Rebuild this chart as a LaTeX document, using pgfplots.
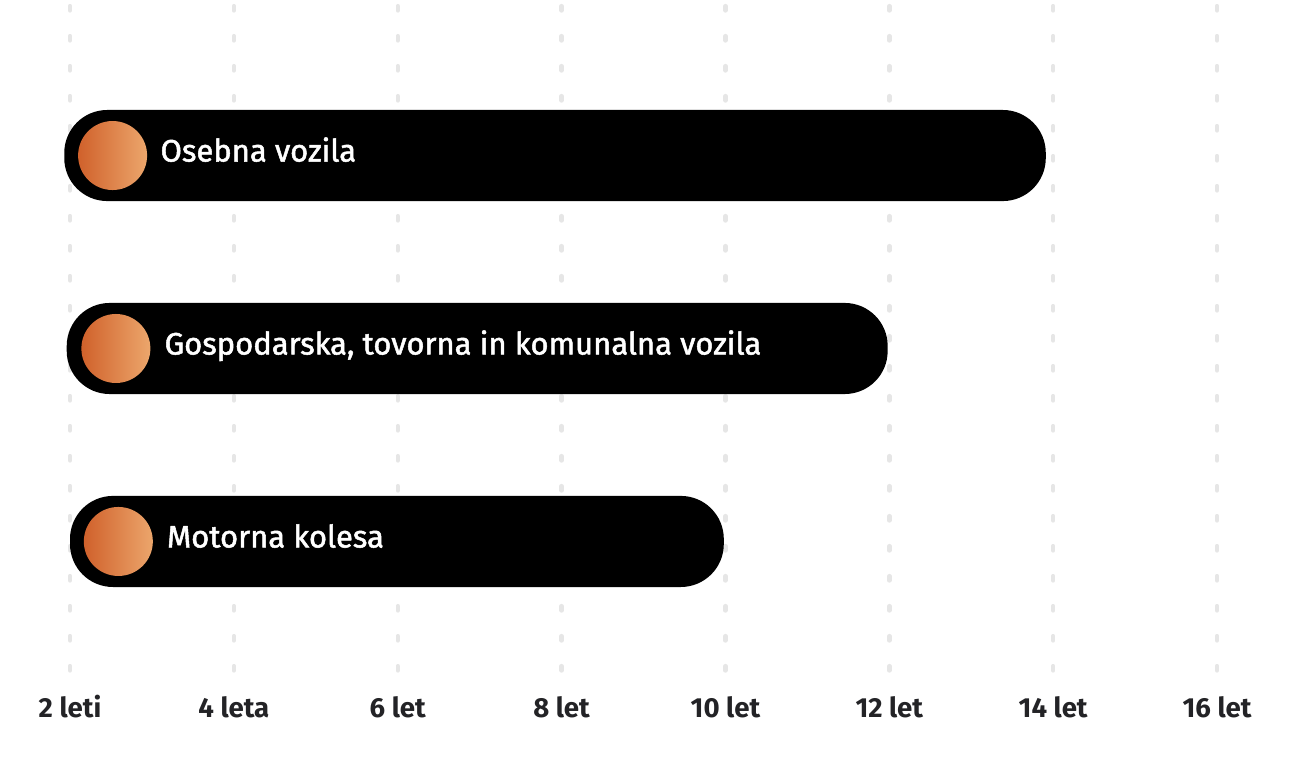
\documentclass[border=0pt]{standalone}
\usepackage{pgfplots}
\usepackage{pgfplotstable}
\pgfplotsset{compat=1.18}
\usepackage{fontspec}
\setmainfont{Fira Sans}
\newfontfamily\labelfont{Fira Sans}[FakeBold=1.6]

\definecolor{ink}{HTML}{232326}
\definecolor{dotgray}{HTML}{E6E6E6}
\definecolor{orA}{HTML}{D0612B}
\definecolor{orB}{HTML}{ECA66C}

% row, circle centre, label start
\pgfplotstableread[col sep=semicolon]{
y;cx;tx;label
3;2.52;3.10;Osebna vozila
2;2.56;3.15;Gospodarska, tovorna in komunalna vozila
1;2.59;3.18;Motorna kolesa
}\rows

\begin{document}
\begin{tikzpicture}
\useasboundingbox (0,-42.5pt) rectangle (648pt,337.5pt);
\begin{axis}[
    scale only axis,
    width=648pt, height=337.5pt,
    xmin=1.1456, xmax=16.964,
    ymin=0.308, ymax=3.806,
    axis line style={draw=none},
    major tick length=0pt,
    ytick=\empty,
    xtick={2,4,...,16},
    xticklabels={2 leti,4 leta,6 let,8 let,10 let,12 let,14 let,16 let},
    xticklabel style={anchor=base, yshift=-21.5pt, text=ink,
        font=\fontsize{13.8}{16}\selectfont\bfseries},
    xmajorgrids,
    grid style={dotgray, line width=2.2pt, line cap=round,
        dash pattern=on 2.2pt off 12.8pt, dash phase=12.75pt},
    clip=false,
    ]
    % bars: start, end
    \addplot[fill=black, draw=none, rounded corners=21.5pt]
        coordinates {(1.93,2.764)(13.91,2.764)(13.91,3.236)(1.93,3.236)} -- cycle;
    \addplot[fill=black, draw=none, rounded corners=21.5pt]
        coordinates {(1.96,1.764)(11.98,1.764)(11.98,2.236)(1.96,2.236)} -- cycle;
    \addplot[fill=black, draw=none, rounded corners=21.5pt]
        coordinates {(2.00,0.764)(9.98,0.764)(9.98,1.236)(2.00,1.236)} -- cycle;

    % orange dots
    \addplot[only marks, mark=none, nodes near coords={},
        every node near coord/.style={circle, inner sep=0pt, minimum size=34.5pt,
            left color=orA, right color=orB, anchor=center}]
        table[x=cx, y=y] {\rows};

    % labels
    \addplot[only marks, mark=none, point meta=explicit symbolic, nodes near coords,
        every node near coord/.style={anchor=base west, inner sep=0pt, yshift=-3pt,
            text=white, font=\labelfont\fontsize{15.5}{18}\selectfont}]
        table[x=tx, y=y, meta=label] {\rows};
\end{axis}
\end{tikzpicture}
\end{document}
